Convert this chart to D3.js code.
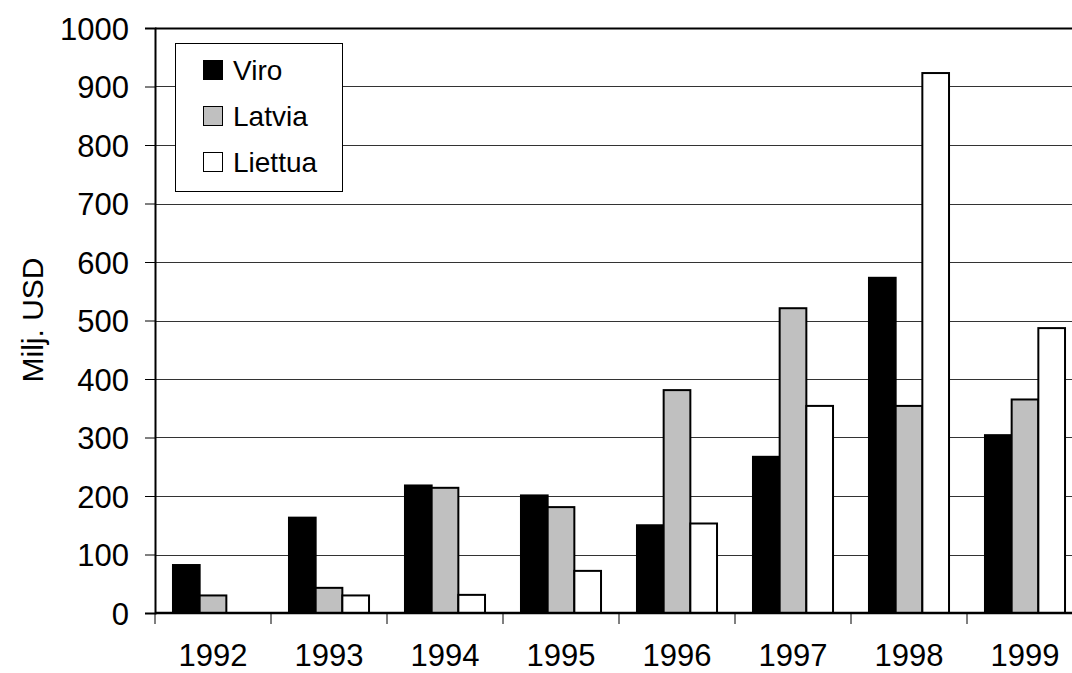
<!DOCTYPE html>
<html>
<head>
<meta charset="utf-8">
<script src="https://cdn.jsdelivr.net/npm/d3@7"></script>
<style>
  body { margin: 0; background: #fff; }
  text { font-family: "Liberation Sans", Arial, sans-serif; fill: #000; }
</style>
</head>
<body>
<div id="chart"></div>
<script>
const years = ["1992", "1993", "1994", "1995", "1996", "1997", "1998", "1999"];
const seriesNames = ["Viro", "Latvia", "Liettua"];
const viro = [82, 163, 218, 201, 150, 267, 573, 304];
const latvia = [30, 43, 214, 181, 381, 521, 354, 365];
const liettua = [0, 30, 31, 72, 153, 354, 923, 487];
const yTicks = [0, 100, 200, 300, 400, 500, 600, 700, 800, 900, 1000];
const fills = ["#000000", "#c0c0c0", "#ffffff"];

const width = 1072, height = 673;
const margin = {top: 28, right: -11, bottom: 60, left: 155};
const fontSize = "31px";

const data = years.map((y, i) => ({year: y, values: [viro[i], latvia[i], liettua[i]]}));

const svg = d3.select("#chart").append("svg")
    .attr("width", width)
    .attr("height", height);

const x = d3.scaleBand()
    .domain(years)
    .range([margin.left, width - margin.right])
    .paddingInner(0.31)
    .paddingOuter(0.155);

const x1 = d3.scaleBand()
    .domain(seriesNames)
    .range([0, x.bandwidth()]);

const y = d3.scaleLinear()
    .domain([0, 1000])
    .range([height - margin.bottom, margin.top]);

// gridlines
svg.append("g")
    .selectAll("line")
    .data(yTicks.filter(d => d > 0))
    .enter()
    .append("line")
    .attr("x1", margin.left)
    .attr("x2", width)
    .attr("y1", d => Math.round(y(d)) + 0.5)
    .attr("y2", d => Math.round(y(d)) + 0.5)
    .attr("stroke", d => d === 1000 ? "#000" : "#333")
    .attr("stroke-width", d => d === 1000 ? 2 : 1);

// bars
const groups = svg.append("g")
    .selectAll("g")
    .data(data)
    .enter()
    .append("g")
    .attr("transform", d => `translate(${x(d.year)},0)`);

groups.selectAll("rect")
    .data(d => d.values.map((v, i) => ({v, k: seriesNames[i]})).filter(e => e.v > 0))
    .enter()
    .append("rect")
    .attr("x", d => x1(d.k))
    .attr("y", d => y(d.v))
    .attr("width", x1.bandwidth())
    .attr("height", d => y(0) - y(d.v))
    .attr("fill", d => fills[seriesNames.indexOf(d.k)])
    .attr("stroke", "#000")
    .attr("stroke-width", 2);

// y axis
const yAxis = d3.axisLeft(y)
    .tickValues(yTicks)
    .tickFormat(d3.format("d"))
    .tickSize(10)
    .tickPadding(16);

const yg = svg.append("g")
    .attr("transform", `translate(${margin.left},0)`)
    .call(yAxis);
yg.attr("font-size", null).attr("font-family", null);
yg.select(".domain").attr("stroke", "#000").attr("stroke-width", 2);
yg.selectAll(".tick line").attr("stroke", "#000").attr("stroke-width", 1);
yg.selectAll(".tick text")
    .attr("dy", "0.36em")
    .style("font-size", fontSize);

// x axis
const xBoundaries = d3.range(years.length + 1).map(i => margin.left + i * x.step());
svg.append("line")
    .attr("x1", margin.left)
    .attr("x2", width)
    .attr("y1", y(0))
    .attr("y2", y(0))
    .attr("stroke", "#000")
    .attr("stroke-width", 2.5);

svg.append("g")
    .selectAll("line")
    .data(xBoundaries)
    .enter()
    .append("line")
    .attr("x1", d => d)
    .attr("x2", d => d)
    .attr("y1", y(0))
    .attr("y2", y(0) + 11)
    .attr("stroke", "#000")
    .attr("stroke-width", 1);

svg.append("g")
    .selectAll("text")
    .data(years)
    .enter()
    .append("text")
    .attr("x", d => margin.left + years.indexOf(d) * x.step() + x.step() / 2)
    .attr("y", 666)
    .attr("text-anchor", "middle")
    .style("font-size", fontSize)
    .text(d => d);

// y label
svg.append("text")
    .attr("transform", `translate(43,320) rotate(-90)`)
    .attr("text-anchor", "middle")
    .style("font-size", "30px")
    .text("Milj. USD");

// legend
const legend = svg.append("g");
legend.append("rect")
    .attr("x", 175.5)
    .attr("y", 43.5)
    .attr("width", 167)
    .attr("height", 148)
    .attr("fill", "#fff")
    .attr("stroke", "#000")
    .attr("stroke-width", 1);

const items = legend.selectAll("g")
    .data(seriesNames)
    .enter()
    .append("g")
    .attr("transform", (d, i) => `translate(203.5,${60.5 + i * 46})`);

items.append("rect")
    .attr("width", 19)
    .attr("height", 19)
    .attr("fill", (d, i) => fills[i])
    .attr("stroke", "#000")
    .attr("stroke-width", 1);

items.append("text")
    .attr("x", 29.5)
    .attr("y", 19.5)
    .style("font-size", "28px")
    .text(d => d);
</script>
</body>
</html>
